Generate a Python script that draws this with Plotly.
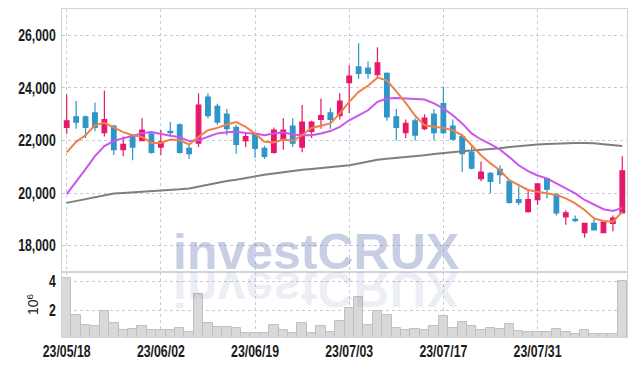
import plotly.graph_objects as go

dates = (
    ["23/05/18", "23/05/19", "23/05/22", "23/05/23", "23/05/24", "23/05/25", "23/05/26", "23/05/30", "23/05/31"]
    + ["23/06/01", "23/06/02", "23/06/05", "23/06/07", "23/06/08", "23/06/09", "23/06/12", "23/06/13", "23/06/14",
       "23/06/15", "23/06/16", "23/06/19", "23/06/20", "23/06/21", "23/06/22", "23/06/23", "23/06/26", "23/06/27",
       "23/06/28", "23/06/29", "23/06/30"]
    + ["23/07/03", "23/07/04", "23/07/05", "23/07/06", "23/07/07", "23/07/10", "23/07/11", "23/07/12", "23/07/13",
       "23/07/14", "23/07/17", "23/07/18", "23/07/19", "23/07/20", "23/07/21", "23/07/24", "23/07/25", "23/07/26",
       "23/07/27", "23/07/28", "23/07/31"]
    + ["23/08/01", "23/08/02", "23/08/03", "23/08/04", "23/08/07", "23/08/08", "23/08/09", "23/08/10", "23/08/11"]
)

open_ = [22500, 22900, 22900, 23050, 22300, 22550, 21650, 22200, 22000, 22250,
         21750, 22350, 22600, 21700, 21900, 23650, 23300, 23000, 22500, 22000,
         22250, 21700, 21550, 22050, 22550, 21750, 22350, 22800, 23050, 22950,
         24200, 24800, 24750, 24500, 24550, 22900, 22300, 22750, 22450, 23000,
         23400, 22550, 22150, 21550, 20550, 20750, 20900, 20450, 19750, 19300,
         19750, 20550, 19950, 19100, 19000, 18500, 18850, 18500, 18850, 19250]
high = [23750, 23500, 22950, 23450, 23900, 22600, 22150, 22250, 22850, 22250,
        22400, 22700, 22650, 21850, 23800, 23800, 23400, 23200, 22600, 22300,
        22300, 21800, 22500, 22850, 22850, 23350, 22750, 23600, 23250, 23800,
        24850, 25700, 25000, 25550, 24600, 23200, 22800, 22850, 23000, 23200,
        24050, 22800, 22250, 21800, 21200, 20800, 21050, 20500, 20250, 20150,
        20350, 20550, 20000, 19350, 19150, 18850, 19100, 18900, 19150, 21400]
low = [22250, 22450, 22100, 22350, 22150, 21450, 21400, 21250, 22000, 21500,
       21450, 22200, 21500, 21300, 21750, 22850, 22600, 22200, 21500, 21750,
       21350, 21300, 21500, 21650, 21750, 21550, 22100, 22450, 22450, 22800,
       23050, 24350, 24350, 24400, 22750, 22000, 22100, 22000, 22400, 22000,
       22250, 22000, 20800, 20900, 20450, 20000, 20350, 19600, 19550, 19250,
       19550, 19800, 19150, 18800, 18900, 18300, 18600, 18500, 18550, 19250]
close = [22750, 22700, 22500, 22500, 22800, 21650, 21850, 21750, 22400, 21550,
         21950, 22300, 21550, 21500, 23350, 22950, 22700, 22450, 21850, 22150,
         21700, 21400, 22400, 22400, 21900, 22700, 22700, 22950, 22800, 23500,
         24450, 24550, 24550, 24950, 22900, 22500, 22650, 22200, 22850, 22300,
         22300, 22050, 21500, 20950, 20800, 20450, 20700, 19650, 19650, 19750,
         20350, 20150, 19250, 19250, 18950, 18850, 18600, 18900, 19050, 20850]

ma_short = [21550, 21950, 22200, 22580, 22670, 22500, 22320, 22200, 22140, 21910,
            21910, 22040, 22010, 21850, 22140, 22390, 22480, 22610, 22700, 22520,
            22270, 21950, 21930, 22040, 21990, 22200, 22480, 22560, 22650, 23030,
            23470, 23850, 24080, 24390, 24290, 23870, 23430, 22940, 22580, 22520,
            22480, 22390, 22200, 21820, 21440, 21130, 20870, 20490, 20300, 20120,
            20050, 19990, 19930, 19800, 19610, 19360, 19040, 18940, 18910, 19290]
ma_mid = [19960, 20420, 20910, 21410, 21790, 21980, 22090, 22170, 22280, 22320,
          22240, 22180, 22130, 21980, 22010, 22130, 22270, 22310, 22330, 22290,
          22270, 22200, 22270, 22310, 22230, 22200, 22200, 22270, 22360, 22520,
          22770, 22960, 23150, 23470, 23600, 23620, 23600, 23560, 23560, 23410,
          23220, 22960, 22650, 22270, 22040, 21860, 21660, 21370, 21060, 20840,
          20670, 20560, 20370, 20180, 19990, 19740, 19550, 19390, 19320, 19440]
ma_long = [19630, 19700, 19780, 19860, 19930, 19990, 20010, 20030, 20045, 20060,
           20080, 20110, 20145, 20180, 20250, 20330, 20400, 20460, 20510, 20580,
           20640, 20700, 20750, 20800, 20850, 20890, 20920, 20950, 20975, 21010,
           21060, 21130, 21200, 21270, 21310, 21340, 21370, 21390, 21440, 21490,
           21530, 21560, 21590, 21620, 21645, 21670, 21710, 21750, 21790, 21820,
           21850, 21870, 21890, 21900, 21905, 21910, 21900, 21860, 21820, 21790]

volume_m = [4.26, 1.65, 0.95, 0.88, 1.95, 1.12, 0.63, 0.70, 0.88, 0.63,
            0.61, 0.61, 0.75, 0.50, 3.14, 1.12, 0.84, 0.84, 0.75, 0.45,
            0.45, 0.45, 0.95, 0.63, 0.45, 1.12, 0.45, 0.88, 0.52, 1.24,
            2.14, 2.91, 0.95, 1.95, 1.65, 0.75, 0.63, 0.68, 0.63, 0.88,
            1.60, 0.75, 1.16, 0.91, 0.63, 0.75, 0.68, 1.02, 0.56, 0.49,
            0.49, 0.49, 0.68, 0.49, 0.35, 0.61, 0.35, 0.35, 0.35, 4.07]

x_tick_labels = ["23/05/18", "23/06/02", "23/06/19", "23/07/03", "23/07/17", "23/07/31"]
price_ticks = [18000, 20000, 22000, 24000, 26000]
volume_ticks = [2, 4]

UP = "#e6186b"
DOWN = "#2e96c8"
GRID = "#c9cad8"
BORDER = "#d4d4d8"
FONT_FAMILY = "Liberation Sans, Arial, sans-serif"
TICK_FONT = dict(family=FONT_FAMILY, size=16, color="#1a1a1a", weight="bold")

fig = go.Figure()
fig.add_trace(go.Candlestick(
    x=dates, open=open_, high=high, low=low, close=close,
    increasing=dict(line=dict(color=UP, width=1.2), fillcolor=UP),
    decreasing=dict(line=dict(color=DOWN, width=1.2), fillcolor=DOWN),
    xaxis="x", yaxis="y", showlegend=False, hoverinfo="skip",
))
fig.add_trace(go.Scatter(x=dates, y=ma_long, mode="lines", line=dict(color="#7f7f7f", width=2),
                         xaxis="x", yaxis="y", showlegend=False, hoverinfo="skip"))
fig.add_trace(go.Scatter(x=dates, y=ma_mid, mode="lines", line=dict(color="#cc55ee", width=2),
                         xaxis="x", yaxis="y", showlegend=False, hoverinfo="skip"))
fig.add_trace(go.Scatter(x=dates, y=ma_short, mode="lines", line=dict(color="#f08048", width=2),
                         xaxis="x", yaxis="y", showlegend=False, hoverinfo="skip"))
fig.add_trace(go.Bar(x=dates, y=volume_m, marker=dict(color="#d9d9d9", line=dict(color="#bfbfbf", width=1)),
                     width=1.0, xaxis="x2", yaxis="y2", showlegend=False, hoverinfo="skip"))

common_x = dict(type="category", categoryorder="array", categoryarray=dates,
                range=[-0.5, 59.5], showgrid=True, gridcolor=GRID, griddash="dot", gridwidth=1,
                tickmode="array", tickvals=x_tick_labels, ticktext=x_tick_labels,
                showline=True, mirror=True, linecolor=BORDER, linewidth=1, ticks="",
                tickfont=TICK_FONT, zeroline=False, automargin=False)

watermark_font = dict(family="Liberation Sans, Arial, sans-serif", size=50, weight="bold")

fig.update_layout(
    width=635, height=366,
    margin=dict(l=62, r=8, t=9, b=29, autoexpand=False),
    paper_bgcolor="white", plot_bgcolor="white",
    bargap=0,
    xaxis=dict(common_x, anchor="y", domain=[0, 1], showticklabels=False,
               rangeslider=dict(visible=False), matches="x2"),
    xaxis2=dict(common_x, anchor="y2", domain=[0, 1], showticklabels=True),
    yaxis=dict(domain=[0.198, 1], range=[17000, 27000], tickmode="array", tickvals=price_ticks,
               tickformat=",d", showgrid=True, gridcolor=GRID, griddash="dot", gridwidth=1,
               showline=True, mirror=True, linecolor=BORDER, ticks="", tickfont=TICK_FONT,
               zeroline=False, ticklabelstandoff=2, automargin=False),
    yaxis2=dict(domain=[0, 0.198], range=[0.14, 4.68], tickmode="array", tickvals=volume_ticks,
                ticktext=[str(v) for v in volume_ticks], showgrid=True, gridcolor=GRID,
                griddash="dot", gridwidth=1, showline=True, mirror=True, linecolor=BORDER,
                ticks="", tickfont=TICK_FONT, zeroline=False, ticklabelstandoff=2, automargin=False,
                title=dict(text="10<sup>6</sup>", font=dict(family=FONT_FAMILY, size=14,
                                                              color="#222222"), standoff=4)),
    annotations=[
        dict(text="investCRUX", xref="paper", yref="paper", x=0.45, y=0.168,
             xanchor="center", yanchor="bottom", showarrow=False,
             font=dict(watermark_font, color="rgba(110,125,185,0.38)")),
        dict(text="investCRUX", xref="paper", yref="paper", x=0.45, y=0.198,
             xanchor="center", yanchor="top", yshift=13, showarrow=False,
             font=dict(watermark_font, color="rgba(110,125,185,0.15)")),
    ],
)

post_script = """
document.documentElement.style.margin = '0';
document.body.style.margin = '0';
document.body.style.padding = '0';
document.body.style.overflow = 'hidden';
var gd = document.getElementById('{plot_id}');
function flipReflection(){
  var els = gd.querySelectorAll('.annotation-text');
  var n = 0;
  for (var i = 0; i < els.length; i++){
    var t = els[i];
    if (t.textContent.indexOf('investCRUX') < 0) continue;
    n += 1;
    if (n !== 2) continue;
    var b = t.getBBox();
    var cy = b.y + b.height / 2;
    t.setAttribute('transform', 'translate(0,' + (2 * cy) + ') scale(1,-1)');
  }
}
function narrowTicks(){
  var texts = gd.querySelectorAll('.xtick text, .ytick text, .x2tick text, .y2tick text');
  for (var i = 0; i < texts.length; i++){
    var t = texts[i];
    var cur = t.getAttribute('transform') || '';
    var applied = t.getAttribute('data-applied-tf');
    var orig = (applied !== null && cur === applied) ? t.getAttribute('data-orig-tf') : cur;
    var x0 = parseFloat(t.getAttribute('x')) || 0;
    var tf = orig + ' translate(' + x0 + ',0) scale(0.77,1) translate(' + (-x0) + ',0)';
    t.setAttribute('data-orig-tf', orig);
    t.setAttribute('data-applied-tf', tf);
    t.setAttribute('transform', tf);
  }
}
function decorate(){ flipReflection(); narrowTicks(); }
decorate();
if (gd.on) { gd.on('plotly_afterplot', decorate); }
setTimeout(decorate, 50);
"""

fig.write_html("out.html", post_script=post_script, config={"displayModeBar": False})
